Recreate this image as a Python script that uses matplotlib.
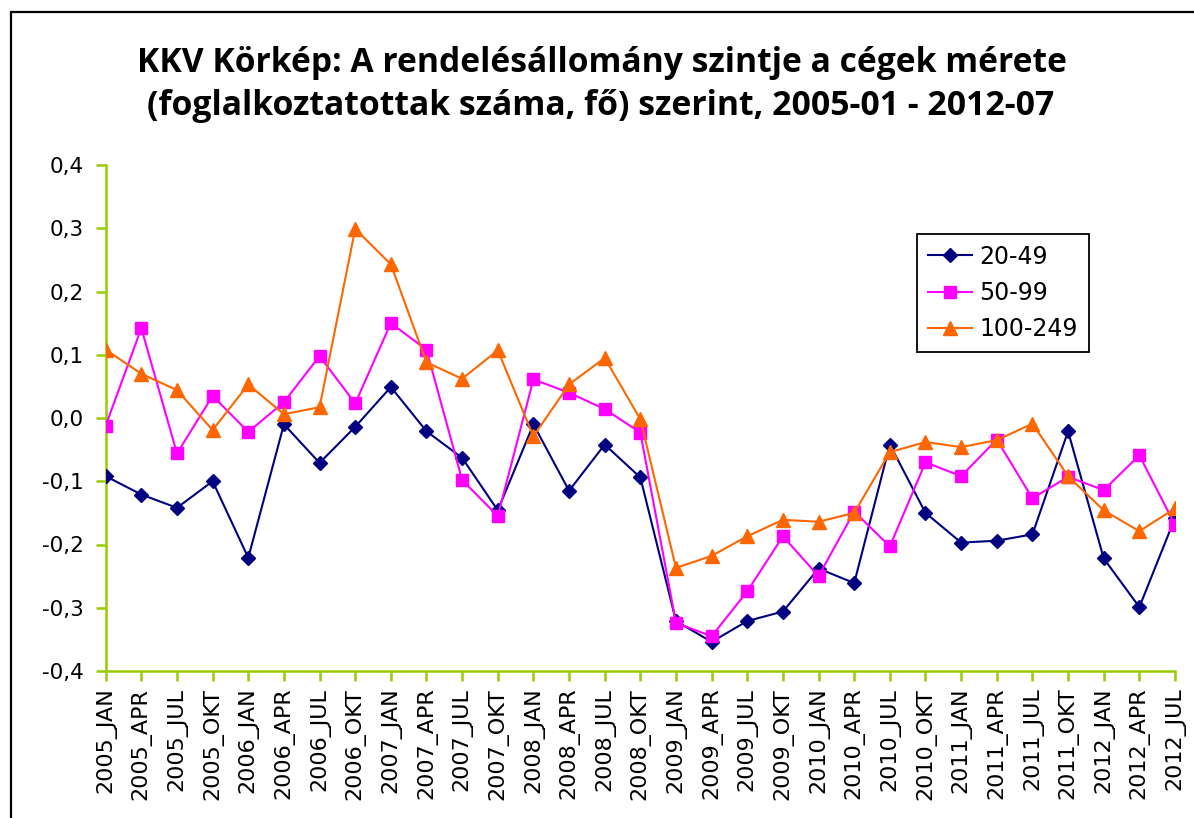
import matplotlib
matplotlib.use("Agg")
import matplotlib.pyplot as plt
from matplotlib.patches import Rectangle

categories = [
    "2005_JAN", "2005_APR", "2005_JUL", "2005_OKT",
    "2006_JAN", "2006_APR", "2006_JUL", "2006_OKT",
    "2007_JAN", "2007_APR", "2007_JUL", "2007_OKT",
    "2008_JAN", "2008_APR", "2008_JUL", "2008_OKT",
    "2009_JAN", "2009_APR", "2009_JUL", "2009_OKT",
    "2010_JAN", "2010_APR", "2010_JUL", "2010_OKT",
    "2011_JAN", "2011_APR", "2011_JUL", "2011_OKT",
    "2012_JAN", "2012_APR", "2012_JUL",
]

s_20_49 = [
    -0.092, -0.121, -0.142, -0.100,
    -0.221, -0.010, -0.071, -0.014,
    0.049, -0.021, -0.063, -0.146,
    -0.010, -0.115, -0.042, -0.094,
    -0.321, -0.354, -0.321, -0.306,
    -0.238, -0.261, -0.042, -0.150,
    -0.197, -0.194, -0.184, -0.021,
    -0.222, -0.299, -0.158,
]

s_50_99 = [
    -0.012, 0.142, -0.056, 0.035,
    -0.022, 0.025, 0.098, 0.023,
    0.150, 0.108, -0.098, -0.155,
    0.061, 0.040, 0.014, -0.023,
    -0.324, -0.345, -0.274, -0.187,
    -0.250, -0.148, -0.203, -0.070,
    -0.092, -0.034, -0.127, -0.093,
    -0.114, -0.059, -0.169,
]

s_100_249 = [
    0.108, 0.070, 0.044, -0.019,
    0.053, 0.006, 0.017, 0.299,
    0.243, 0.088, 0.062, 0.107,
    -0.029, 0.053, 0.095, -0.002,
    -0.237, -0.218, -0.187, -0.161,
    -0.164, -0.150, -0.054, -0.038,
    -0.046, -0.035, -0.009, -0.092,
    -0.146, -0.179, -0.143,
]

series_labels = ["20-49", "50-99", "100-249"]
y_ticks = [-0.4, -0.3, -0.2, -0.1, 0.0, 0.1, 0.2, 0.3, 0.4]
y_tick_labels = ["-0,4", "-0,3", "-0,2", "-0,1", "0,0", "0,1", "0,2", "0,3", "0,4"]
title_line1 = "KKV Körkép: A rendelésállomány szintje a cégek mérete"
title_line2 = "(foglalkoztatottak száma, fő) szerint, 2005-01 - 2012-07"

W, H = 1194, 818
fig = plt.figure(figsize=(W / 100, H / 100), dpi=100)
fig.patch.set_facecolor("white")

# outer chart frame
fig.patches.append(Rectangle((11 / W, -0.05), 1.2, (H - 12) / H + 0.05,
                             transform=fig.transFigure, fill=False,
                             edgecolor="black", linewidth=1.6))

left, right, top, bottom = 105.7, 1175.0, 165.0, 671.0
ax = fig.add_axes([left / W, 1 - bottom / H, (right - left) / W, (bottom - top) / H])

x = list(range(len(categories)))
green = "#99CC00"
ax.plot(x, s_20_49, color="#000080", lw=1.5, marker="D", markersize=7,
        label=series_labels[0], zorder=3)
ax.plot(x, s_50_99, color="#FF00FF", lw=1.5, marker="s", markersize=8,
        label=series_labels[1], zorder=3)
ax.plot(x, s_100_249, color="#FF6600", lw=1.5, marker="^", markersize=10,
        label=series_labels[2], zorder=3)

ax.set_xlim(0, len(categories) - 1)
ax.set_ylim(-0.4, 0.4)
ax.set_yticks(y_ticks)
ax.set_yticklabels(y_tick_labels, fontsize=15.5, family="DejaVu Sans")
ax.set_xticks(x)
ax.set_xticklabels(categories, rotation=90, fontsize=16, family="DejaVu Sans")

for side in ["top", "right"]:
    ax.spines[side].set_visible(False)
for side in ["left", "bottom"]:
    ax.spines[side].set_color(green)
    ax.spines[side].set_linewidth(1.8)
    ax.spines[side].set_zorder(2)
ax.tick_params(axis="both", direction="out", length=7, width=1.8, color=green)
ax.tick_params(axis="y", pad=9)
ax.tick_params(axis="x", pad=5)
for sp in ax.spines.values():
    sp.set_clip_on(False)

leg = ax.legend(loc="upper left",
                bbox_to_anchor=(917 / W, 1 - 234 / H),
                bbox_transform=fig.transFigure,
                frameon=True, fancybox=False, shadow=False,
                edgecolor="black", framealpha=1.0,
                prop={"family": "DejaVu Sans", "size": 17},
                handlelength=1.9, handletextpad=0.3,
                labelspacing=0.52, borderpad=0.45, borderaxespad=0)
leg.get_frame().set_linewidth(1.3)

# title: two centred lines, fitted to the reference widths
fig.canvas.draw()
renderer = fig.canvas.get_renderer()

def fitted_text(txt, cx, cy, target_w):
    fs = 20
    t = fig.text(cx / W, 1 - cy / H, txt, ha="center", va="center",
                 fontsize=fs, fontweight="bold", family="Open Sans")
    w = t.get_window_extent(renderer).width
    t.set_fontsize(fs * target_w / w)
    return t

fitted_text(title_line1, 602, 63, 931)
fitted_text(title_line2, 601, 106, 908)

fig.savefig("out.png", dpi=100, facecolor="white")
